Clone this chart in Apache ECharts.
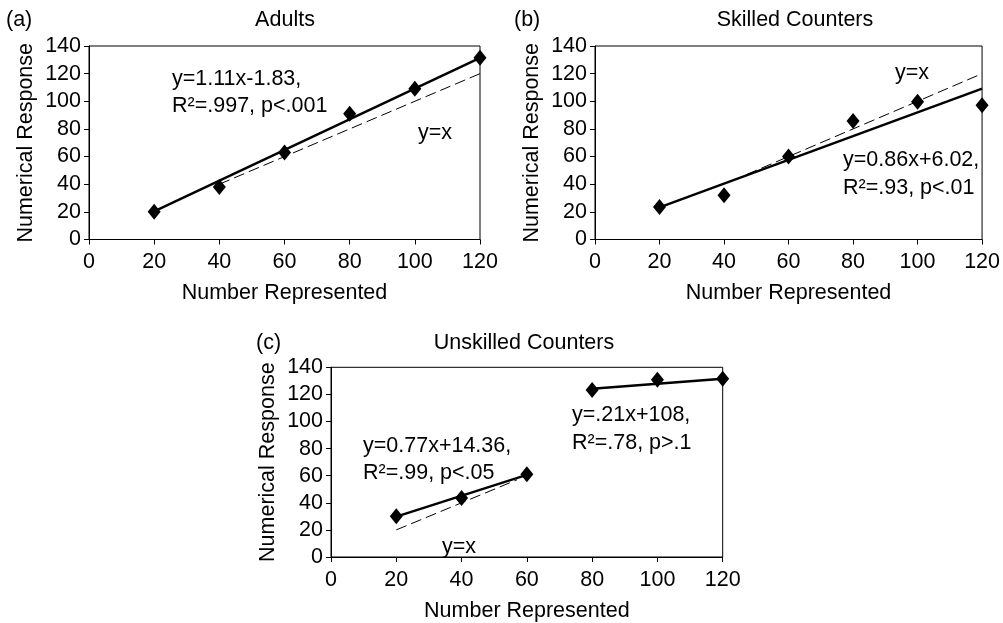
<!DOCTYPE html>
<html>
<head>
<meta charset="utf-8">
<script src="https://cdn.jsdelivr.net/npm/echarts@6/dist/echarts.min.js"></script>
<style>html,body{margin:0;padding:0;background:#fff}#c{width:1003px;height:623px}</style>
</head>
<body>
<div id="c"></div>
<script>
// ---- data ----
var xTicks = [0, 20, 40, 60, 80, 100, 120];
var yTicks = [0, 20, 40, 60, 80, 100, 120, 140];

var adultsX = [20, 40, 60, 80, 100, 120];
var adultsY = [20, 38, 63, 91, 109, 131.5];
var adultsFitX = [20, 120];
var adultsFitY = [20.4, 131.4];
var adultsIdX = [40, 120];
var adultsIdY = [40, 120];

var skilledX = [20, 40, 60, 80, 100, 120];
var skilledY = [23.6, 32, 60, 85.7, 99.6, 97.2];
var skilledFitX = [20, 120];
var skilledFitY = [23.2, 109.2];
var skilledIdX = [47, 120];
var skilledIdY = [47, 120];

var unskilledX = [20, 40, 60, 80, 100, 120];
var unskilledY = [30, 43.5, 61, 123.2, 130.8, 131.6];
var unsFit1X = [20, 60];
var unsFit1Y = [29.8, 60.6];
var unsFit2X = [80, 120];
var unsFit2Y = [124.2, 131.6];
var unsIdX = [20, 57];
var unsIdY = [20, 57];

function pairs(xs, ys) { return xs.map(function (x, i) { return [x, ys[i]]; }); }

var FONT = '"Liberation Sans", Arial, Helvetica, sans-serif';
var FS = 21.5;
var INK = '#000';

var grids = [
  { left: 89, top: 46, width: 391, height: 193.5 },
  { left: 595, top: 46, width: 393, height: 193.5 },
  { left: 331, top: 367.3, width: 391.7, height: 193.7 }
];

function xAxisFor(i) {
  return {
    gridIndex: i, type: 'value', min: 0, max: 120, interval: 20,
    name: 'Number Represented', nameLocation: 'middle', nameGap: 43,
    nameTextStyle: { fontFamily: FONT, fontSize: FS, color: INK },
    axisLine: { show: true, lineStyle: { color: INK, width: 1 } },
    axisTick: { show: true, length: 5, lineStyle: { color: INK } },
    axisLabel: { fontFamily: FONT, fontSize: FS, color: INK, margin: 12 },
    splitLine: { show: false }
  };
}
function yAxisFor(i) {
  return {
    gridIndex: i, type: 'value', min: 0, max: 140, interval: 20,
    name: 'Numerical Response', nameLocation: 'middle', nameGap: 52,
    nameTextStyle: { fontFamily: FONT, fontSize: FS, color: INK },
    axisLine: { show: true, lineStyle: { color: INK, width: 1 } },
    axisTick: { show: true, length: 5, lineStyle: { color: INK } },
    axisLabel: { fontFamily: FONT, fontSize: FS, color: INK, margin: 8 },
    splitLine: { show: false }
  };
}

function scatter(i, xs, ys) {
  return {
    type: 'scatter', xAxisIndex: i, yAxisIndex: i, data: pairs(xs, ys),
    symbol: 'diamond', symbolSize: [13, 16], itemStyle: { color: INK, opacity: 1 }, z: 5
  };
}
function fit(i, xs, ys) {
  return {
    type: 'line', xAxisIndex: i, yAxisIndex: i, data: pairs(xs, ys),
    symbol: 'none', lineStyle: { color: INK, width: 2.4 }, z: 4
  };
}
function ident(i, xs, ys) {
  return {
    type: 'line', xAxisIndex: i, yAxisIndex: i, data: pairs(xs, ys),
    symbol: 'none', lineStyle: { color: INK, width: 1, type: [11, 5] }, z: 3
  };
}

function ctext(cx, y, s) {
  return {
    type: 'text', x: cx, y: y,
    style: { text: s, fontFamily: FONT, fontSize: FS, fill: INK, align: 'center', verticalAlign: 'middle' }
  };
}
function ltext(x, y, s) {
  return {
    type: 'text', x: x, y: y,
    style: { text: s, fontFamily: FONT, fontSize: FS, fill: INK, align: 'left', verticalAlign: 'middle' }
  };
}

var chart = echarts.init(document.getElementById('c'), null, { renderer: 'canvas' });
chart.setOption({
  backgroundColor: '#fff',
  animation: false,
  grid: grids.map(function (g) {
    return Object.assign({ show: true, borderColor: INK, borderWidth: 1, backgroundColor: 'transparent' }, g);
  }),
  xAxis: [xAxisFor(0), xAxisFor(1), xAxisFor(2)],
  yAxis: [yAxisFor(0), yAxisFor(1), yAxisFor(2)],
  series: [
    ident(0, adultsIdX, adultsIdY), fit(0, adultsFitX, adultsFitY), scatter(0, adultsX, adultsY),
    ident(1, skilledIdX, skilledIdY), fit(1, skilledFitX, skilledFitY), scatter(1, skilledX, skilledY),
    ident(2, unsIdX, unsIdY), fit(2, unsFit1X, unsFit1Y), fit(2, unsFit2X, unsFit2Y), scatter(2, unskilledX, unskilledY)
  ],
  graphic: [
    ltext(6, 20, '(a)'), ctext(285, 20, 'Adults'),
    ltext(172, 79, 'y=1.11x-1.83,'), ltext(172, 106, 'R²=.997, p<.001'), ltext(418, 133, 'y=x'),
    ltext(514, 20, '(b)'), ctext(795, 20, 'Skilled Counters'),
    ltext(895, 73, 'y=x'), ltext(843, 160, 'y=0.86x+6.02,'), ltext(843, 188, 'R²=.93, p<.01'),
    ltext(256, 343, '(c)'), ctext(524, 343, 'Unskilled Counters'),
    ltext(363, 446, 'y=0.77x+14.36,'), ltext(363, 473, 'R²=.99, p<.05'),
    ltext(572, 415, 'y=.21x+108,'), ltext(572, 443, 'R²=.78, p>.1'),
    ltext(442, 547, 'y=x')
  ]
});
</script>
</body>
</html>
